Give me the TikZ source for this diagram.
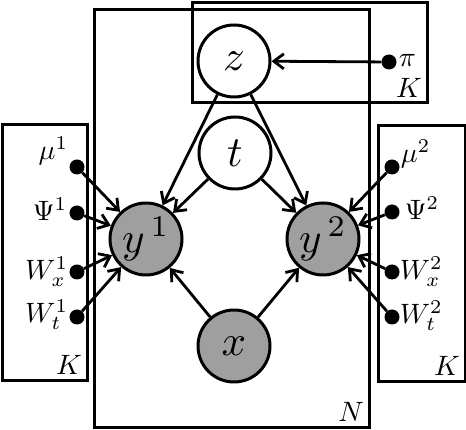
\documentclass[tikz,border=0pt]{standalone}
\usepackage{graphicx}
\usetikzlibrary{arrows.meta}
\newcommand{\nodetxt}[1]{\scalebox{4.3}{$#1$}}
\newcommand{\partxt}[1]{\scalebox{2.8}{$#1$}}
\tikzset{
  var/.style={circle, draw, line width=3pt, minimum size=72pt, inner sep=0pt},
  obs/.style={var, fill=gray!75},
  lat/.style={var, fill=white},
  par/.style={circle, fill=black, minimum size=15pt, inner sep=0pt},
  plab/.style={inner sep=0pt},
  plate/.style={draw, line width=3pt},
  edge/.style={line width=2.8pt, -{Straight Barb[length=10pt,width=15pt,line width=2.8pt]}},
}
\begin{document}
\begin{tikzpicture}[x=1pt,y=1pt]
\useasboundingbox (0,0) rectangle (466,430);
% plates
\draw[plate] (94,2) rectangle (369,420);
\draw[plate] (192,327) rectangle (427,427);
\draw[plate] (2,49) rectangle (87,305);
\draw[plate] (378,48) rectangle (465,304);
\node[plab, anchor=base east] (KT) at (422,332) {\partxt{K}};
\node[plab, anchor=base east] (KL) at (82,55) {\partxt{K}};
\node[plab, anchor=base east] (KR) at (460,54) {\partxt{K}};
\node[plab, anchor=base east] (NN) at (364,8) {\partxt{N}};
% nodes
\node[lat] (z) at (234,369) {\nodetxt{z}};
\node[lat] (t) at (235,277) {\nodetxt{t}};
\node[obs] (y1) at (146,191) {\nodetxt{y^{\,1}}};
\node[obs] (y2) at (323,191) {\nodetxt{y^{\,2}}};
\node[obs] (x) at (234,84) {\nodetxt{x}};
% parameters
\node[par] (pi) at (389,368) {};
\node[plab, anchor=base west] (pil) at ([xshift=2pt,yshift=-5pt]pi.east) {\partxt{\pi}};
\node[par] (mu1) at (77,263) {};
\node[par] (ps1) at (77,217) {};
\node[par] (wx1) at (77,158) {};
\node[par] (wt1) at (77,113) {};
\node[par] (mu2) at (392,263) {};
\node[par] (ps2) at (392,218) {};
\node[par] (wx2) at (392,158) {};
\node[par] (wt2) at (392,113) {};
\node[plab, anchor=base east] (mu1l) at ([xshift=-1pt,yshift=7pt]mu1.west) {\partxt{\mu^1}};
\node[plab, anchor=base east] (ps1l) at ([xshift=-2pt,yshift=-8pt]ps1.west) {\partxt{\Psi^1}};
\node[plab, anchor=base east] (wx1l) at ([xshift=-1pt,yshift=-8pt]wx1.west) {\partxt{W_x^1}};
\node[plab, anchor=base east] (wt1l) at ([xshift=-1pt,yshift=-6pt]wt1.west) {\partxt{W_t^1}};
\node[plab, anchor=base west] (mu2l) at ([xshift=1pt,yshift=4pt]mu2.east) {\partxt{\mu^2}};
\node[plab, anchor=base west] (ps2l) at ([xshift=5pt,yshift=-8pt]ps2.east) {\partxt{\Psi^2}};
\node[plab, anchor=base west] (wx2l) at ([xshift=0pt,yshift=-8pt]wx2.east) {\partxt{W_x^2}};
\node[plab, anchor=base west] (wt2l) at ([xshift=0pt,yshift=-7pt]wt2.east) {\partxt{W_t^2}};
% edges
\draw[edge] (pi) -- (z);
\draw[edge] (z) -- (y1);
\draw[edge] (z) -- (y2);
\draw[edge] (t) -- (y1);
\draw[edge] (t) -- (y2);
\draw[edge] (x) -- (y1);
\draw[edge] (x) -- (y2);
\foreach \p in {mu1,ps1,wx1,wt1} \draw[edge] (\p) -- (y1);
\foreach \p in {mu2,ps2,wx2,wt2} \draw[edge] (\p) -- (y2);
\end{tikzpicture}
\end{document}
